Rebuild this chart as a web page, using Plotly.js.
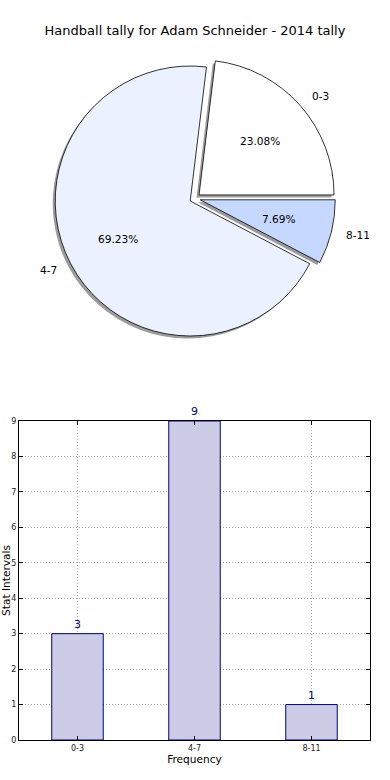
<!DOCTYPE html>
<html><head><meta charset="utf-8">
<script src="https://cdn.plot.ly/plotly-3.0.1.min.js"></script>
<style>html,body{margin:0;padding:0;background:#fff;}#chart{width:390px;height:780px;}</style>
</head><body><div id="chart"></div>
<script>
// ---- data ----
const categories = ["0-3", "4-7", "8-11"];
const counts = [3, 9, 1];
const sliceColors = ["#ffffff", "#ebf1ff", "#c6d8ff"];
const titleText = "Handball tally for Adam Schneider - 2014 tally";
const xTitle = "Frequency";
const yTitle = "Stat Intervals";
const yTickValues = [0, 1, 2, 3, 4, 5, 6, 7, 8, 9];

// ---- layout geometry ----
const W = 390, H = 780;
const FONT = "DejaVu Sans, sans-serif";
const pieCx = 195, pieCy = 198.5, pieR = 135, pullFrac = 0.04;
const shadowDx = -2.5, shadowDy = 2.5;
const half = pieR * (1 + pullFrac);
function pieDomain(dx, dy) {
  return {x: [(pieCx + dx - half) / W, (pieCx + dx + half) / W],
          y: [1 - (pieCy + dy + half) / H, 1 - (pieCy + dy - half) / H]};
}
// plotly pie drawn clockwise from 3 o'clock -> reverse order reproduces counter-clockwise layout
const rev = a => a.slice().reverse();
const pulls = categories.map(() => pullFrac);

const shadowPie = {
  type: "pie", values: rev(counts), labels: rev(categories), sort: false,
  direction: "clockwise", rotation: 90, pull: pulls, domain: pieDomain(shadowDx, shadowDy),
  marker: {colors: categories.map(() => "#9c9c9c"), line: {width: 0}},
  textinfo: "none", hoverinfo: "skip", showlegend: false
};
const mainPie = {
  type: "pie", values: rev(counts), labels: rev(categories), sort: false,
  direction: "clockwise", rotation: 90, pull: pulls, domain: pieDomain(0, 0),
  marker: {colors: rev(sliceColors), line: {width: 0.8, color: "#000"}},
  textinfo: "none", hoverinfo: "label+percent", showlegend: false
};

// pie texts computed from the data (matplotlib-like: labels at 1.1 r, pct at 0.6 r)
const total = counts.reduce((a, b) => a + b, 0);
const annotations = [];
let start = 0;
counts.forEach((v, i) => {
  const span = v / total * 2 * Math.PI;
  const mid = start + span / 2;
  start += span;
  const c = Math.cos(mid), s = Math.sin(mid);
  const vx = pieCx + pullFrac * pieR * c, vy = pieCy - pullFrac * pieR * s;
  const lx = vx + 1.1 * pieR * c, ly = vy - 1.1 * pieR * s;
  const px = vx + 0.6 * pieR * c, py = vy - 0.6 * pieR * s;
  annotations.push({xref: "paper", yref: "paper", x: lx / W, y: 1 - ly / H,
    text: categories[i], showarrow: false, xanchor: c > 0 ? "left" : "right", yanchor: "middle",
    font: {family: FONT, size: 10.6, color: "#000"}});
  annotations.push({xref: "paper", yref: "paper", x: px / W, y: 1 - py / H,
    text: (v / total * 100).toFixed(2) + "%", showarrow: false, xanchor: "center", yanchor: "middle",
    font: {family: FONT, size: 10.6, color: "#000"}});
});

const bars = {
  type: "bar", x: categories, y: counts, width: 0.44, xaxis: "x", yaxis: "y",
  marker: {color: "#ccccE6", line: {color: "#000080", width: 1}},
  text: counts.map(String), textposition: "outside", cliponaxis: false,
  textfont: {family: FONT, size: 11, color: "#000080"}, showlegend: false, hoverinfo: "x+y"
};

const axisCommon = {
  showline: true, linecolor: "#000", linewidth: 1, mirror: "ticks",
  ticks: "inside", ticklen: 4, tickwidth: 1, tickcolor: "#000",
  showgrid: true, gridcolor: "#a8a8a8", griddash: "1px,2px", gridwidth: 1,
  zeroline: false, automargin: false, fixedrange: true,
  tickfont: {family: FONT, size: 8, color: "#222"}
};

const layout = {
  width: W, height: H, margin: {l: 0, r: 0, t: 0, b: 0}, autosize: false,
  paper_bgcolor: "#fff", plot_bgcolor: "#fff",
  font: {family: FONT, color: "#000"},
  title: {text: titleText, x: 0.5, xanchor: "center", xref: "paper", y: 1 - 30 / H, yanchor: "middle", yref: "paper",
          font: {family: FONT, size: 13, color: "#000"}},
  xaxis: Object.assign({}, axisCommon, {
    domain: [19 / W, 370 / W], type: "category", range: [-0.5, 2.5], anchor: "y",
    title: {text: xTitle, standoff: 3, font: {family: FONT, size: 10.6, color: "#000"}}
  }),
  yaxis: Object.assign({}, axisCommon, {
    domain: [40 / H, 359 / H], range: [0, 9], tickvals: yTickValues, anchor: "x",
    title: {text: yTitle, standoff: 0, font: {family: FONT, size: 10.6, color: "#000"}}
  }),
  annotations: annotations,
  showlegend: false
};

Plotly.newPlot("chart", [shadowPie, mainPie, bars], layout, {staticPlot: true, displayModeBar: false});
</script>
</body></html>
